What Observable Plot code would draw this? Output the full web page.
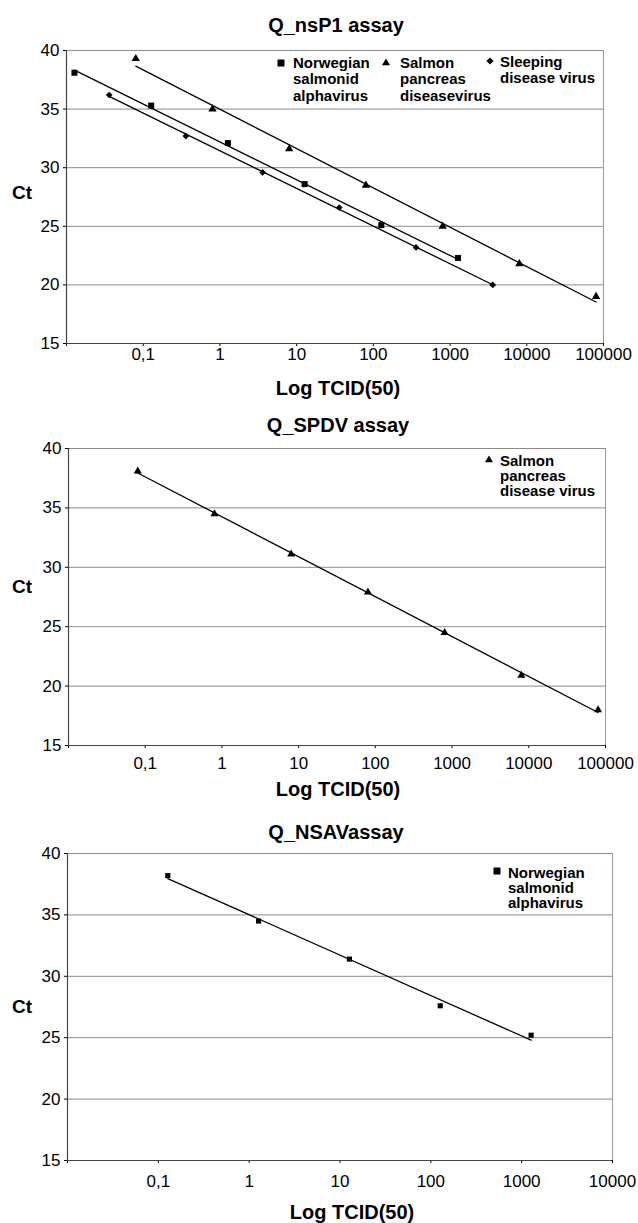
<!DOCTYPE html>
<html><head><meta charset="utf-8">
<script src="https://cdn.jsdelivr.net/npm/d3@7"></script>
<script src="https://cdn.jsdelivr.net/npm/@observablehq/plot@0.6"></script>
<style>
body{margin:0;background:#fff;}
#page{position:relative;width:638px;height:1223px;overflow:hidden;font-family:"Liberation Sans",Arial,Helvetica,sans-serif;color:#000;background:#fff;}
.abs{position:absolute;}
.center{transform:translate(-50%,-50%);white-space:nowrap;font-weight:bold;}
.title{font-size:20px;}
.xlab{font-size:20px;}
.ylab{font-size:19px;}
.leg{font-weight:bold;font-size:15px;white-space:nowrap;}
.mk{position:absolute;transform:translate(-50%,-50%);}
</style>
</head><body>
<div id="page"></div>
<script>
// ---------- data ----------
const titles = ["Q_nsP1 assay", "Q_SPDV assay", "Q_NSAVassay"];
const xLabel = "Log TCID(50)";
const yLabel = "Ct";
const yTicks = [15, 20, 25, 30, 35, 40];
const gridVals = [20, 25, 30, 35, 40];
const xTicksWide = [0.01, 0.1, 1, 10, 100, 1000, 10000, 100000];
const xTicksNarrow = [0.01, 0.1, 1, 10, 100, 1000, 10000];

const legendNSAV = ["Norwegian", "salmonid", "alphavirus"];
const legendSPDV1 = ["Salmon", "pancreas", "diseasevirus"];
const legendSDV = ["Sleeping", "disease virus"];
const legendSPDV2 = ["Salmon", "pancreas", "disease virus"];

// Panel 1: Q_nsP1 assay
const nsavX1 = [0.0127, 0.127, 1.27, 12.7, 127, 1270];
const nsavCt1 = [38.1, 35.3, 32.1, 28.6, 25.1, 22.3];
const spdvX1 = [0.08, 0.8, 8, 80, 800, 8000, 80000];
const spdvCt1 = [39.3, 35.0, 31.6, 28.5, 25.0, 21.8, 19.0];
const sdvX1 = [0.036, 0.36, 3.6, 36, 360, 3600];
const sdvCt1 = [36.2, 32.7, 29.6, 26.6, 23.2, 20.0];
// Panel 2: Q_SPDV assay
const spdvX2 = [0.08, 0.8, 8, 80, 800, 8000, 80000];
const spdvCt2 = [38.1, 34.5, 31.1, 27.9, 24.5, 20.9, 18.0];
// Panel 3: Q_NSAV assay
const nsavX3 = [0.127, 1.27, 12.7, 127, 1270];
const nsavCt3 = [38.2, 34.5, 31.4, 27.6, 25.2];

// ---------- helpers ----------
const rows = (xs, ys) => xs.map((x, i) => ({x, ct: ys[i]}));
const fmt = d => d === 0.01 ? "" : (d < 1 ? String(d).replace(".", ",") : String(d));
const page = document.getElementById("page");

function addText(cls, text, x, y) {
  const d = document.createElement("div");
  d.className = "abs center " + cls;
  d.style.left = x + "px"; d.style.top = y + "px";
  d.textContent = text;
  page.appendChild(d);
}
function marker(shape, cx, cy, s) {
  const ns = "http://www.w3.org/2000/svg";
  const svg = document.createElementNS(ns, "svg");
  svg.setAttribute("width", s + 2); svg.setAttribute("height", s + 2);
  svg.setAttribute("class", "mk");
  svg.style.left = cx + "px"; svg.style.top = cy + "px";
  const sym = shape === "square" ? d3.symbolSquare : shape === "triangle" ? d3.symbolTriangle : d3.symbolDiamond2;
  const p = document.createElementNS(ns, "path");
  const area = shape === "square" ? s * s : shape === "triangle" ? s * s * 0.433 : s * s / 2;
  p.setAttribute("d", d3.symbol(sym, area)());
  p.setAttribute("transform", `translate(${(s + 2) / 2},${(s + 2) / 2 + (shape === "triangle" ? 1 : 0)})`);
  p.setAttribute("fill", "black");
  svg.appendChild(p);
  page.appendChild(svg);
}
function legendBlock(lines, left, top, lh) {
  const d = document.createElement("div");
  d.className = "abs leg";
  d.style.left = left + "px"; d.style.top = top + "px";
  d.style.lineHeight = lh + "px";
  d.innerHTML = lines.join("<br>");
  page.appendChild(d);
}

function panel({top, height, mt, mb, ml, mr, xDomain, xTicks, tickPad, series}) {
  const marks = [
    Plot.ruleY(gridVals, {stroke: "#8a8a8a", strokeWidth: 1}),
    Plot.ruleX([xDomain[1]], {stroke: "#9a9a9a", strokeWidth: 1}),
    Plot.ruleY([15], {stroke: "#444", strokeWidth: 1.2}),
    Plot.ruleX([xDomain[0]], {stroke: "#444", strokeWidth: 1.2})
  ];
  for (const s of series) {
    marks.push(Plot.linearRegressionY(s.data, {x: "x", y: "ct", stroke: "black", strokeWidth: 1.3, ci: 0}));
    marks.push(Plot.dot(s.data, {x: "x", y: "ct", symbol: s.symbol, r: s.r, fill: "black", stroke: "none"}));
  }
  const chart = Plot.plot({
    width: 638, height,
    marginTop: mt, marginBottom: mb, marginLeft: ml, marginRight: mr,
    style: {fontFamily: '"Liberation Sans", Arial, Helvetica, sans-serif', fontSize: "17px", color: "black", background: "transparent", overflow: "visible"},
    x: {type: "log", domain: xDomain, ticks: xTicks, tickFormat: fmt, tickSize: 3, tickPadding: tickPad, label: null},
    y: {domain: [15, 40], ticks: yTicks, tickSize: 3, tickPadding: 4, label: null},
    marks
  });
  chart.style.position = "absolute";
  chart.style.left = "0px";
  chart.style.top = top + "px";
  page.appendChild(chart);
}

// ---------- Panel 1 ----------
addText("title", titles[0], 336, 25);
panel({top: 40, height: 343, mt: 10, mb: 40, ml: 66, mr: 35,
  xDomain: [0.01, 100000], xTicks: xTicksWide, tickPad: 1,
  series: [
    {data: rows(nsavX1, nsavCt1), symbol: "square", r: 3.4},
    {data: rows(spdvX1, spdvCt1), symbol: "triangle", r: 3.1},
    {data: rows(sdvX1, sdvCt1), symbol: "diamond2", r: 3.0}
  ]});
addText("ylab", yLabel, 22, 193);
addText("xlab", xLabel, 338, 388);
marker("square", 281, 63, 7); legendBlock(legendNSAV, 293, 54.5, 16.5);
marker("triangle", 386, 62, 8); legendBlock(legendSPDV1, 400, 54.5, 16.5);
marker("diamond", 490, 61, 8); legendBlock(legendSDV, 500, 53.5, 16.5);

// ---------- Panel 2 ----------
addText("title", titles[1], 338, 425);
panel({top: 438, height: 342, mt: 10, mb: 35, ml: 68, mr: 33,
  xDomain: [0.01, 100000], xTicks: xTicksWide, tickPad: 8,
  series: [{data: rows(spdvX2, spdvCt2), symbol: "triangle", r: 3.0}]});
addText("ylab", yLabel, 22, 587);
addText("xlab", xLabel, 338, 789);
marker("triangle", 489, 459, 8); legendBlock(legendSPDV2, 500, 452.5, 15);

// ---------- Panel 3 ----------
addText("title", titles[2], 336, 832);
panel({top: 843, height: 357, mt: 10, mb: 40, ml: 67, mr: 26,
  xDomain: [0.01, 10000], xTicks: xTicksNarrow, tickPad: 11,
  series: [{data: rows(nsavX3, nsavCt3), symbol: "square", r: 2.9}]});
addText("ylab", yLabel, 22, 1007);
addText("xlab", xLabel, 352, 1212);
marker("square", 497, 871, 7); legendBlock(legendNSAV, 508, 864.5, 15);
</script>
</body></html>
